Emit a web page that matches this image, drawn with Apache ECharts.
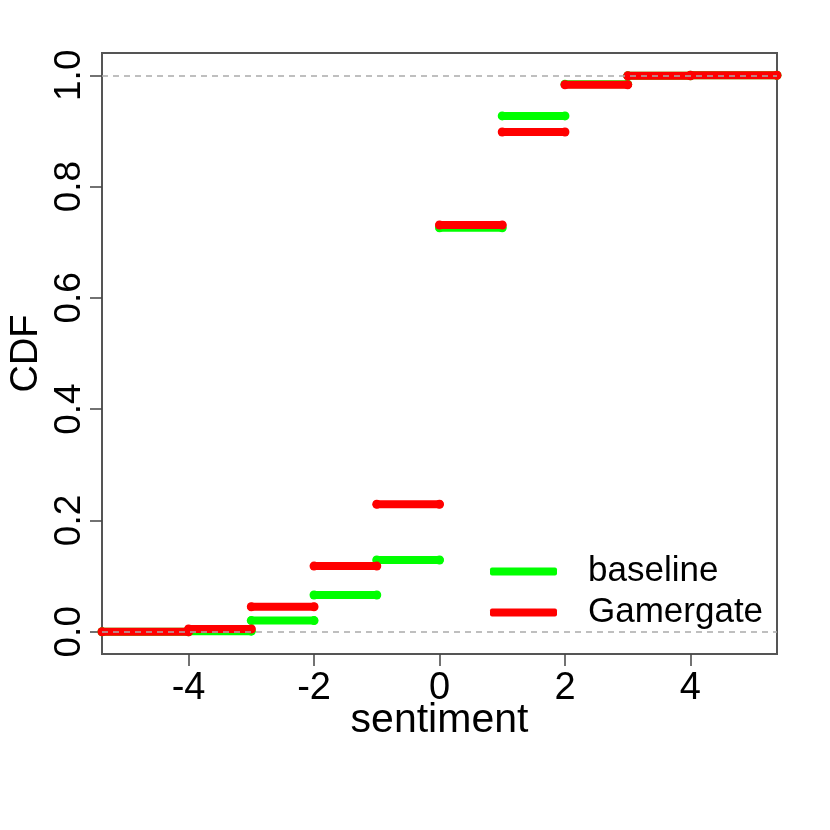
<!DOCTYPE html>
<html>
<head>
<meta charset="utf-8">
<script src="https://cdn.jsdelivr.net/npm/echarts@6/dist/echarts.min.js"></script>
<style>html,body{margin:0;padding:0;background:#fff}#c{width:830px;height:830px}</style>
</head>
<body>
<div id="c"></div>
<script>
const steps = [-4, -3, -2, -1, 0, 1, 2, 3, 4];
const baselineCDF = [0.001, 0.020, 0.066, 0.129, 0.726, 0.927, 0.984, 0.999, 1.0];
const gamergateCDF = [0.005, 0.045, 0.118, 0.229, 0.731, 0.898, 0.983, 0.999, 1.0];
const xTicks = [-4, -2, 0, 2, 4];
const yTicks = [0.0, 0.2, 0.4, 0.6, 0.8, 1.0];
const xMin = -5.38, xMax = 5.38, yMin = -0.04, yMax = 1.04;

function stepData(vals) {
  const d = [];
  d.push([xMin, 0], [steps[0], 0], [steps[0], '-']);
  for (let i = 0; i < steps.length; i++) {
    const x1 = i + 1 < steps.length ? steps[i + 1] : xMax;
    d.push([steps[i], vals[i]], [x1, vals[i]], [x1, '-']);
  }
  return d;
}

const font = '"Liberation Sans", Arial, Helvetica, sans-serif';
const chart = echarts.init(document.getElementById('c'));
chart.setOption({
  animation: false,
  backgroundColor: '#fff',
  grid: { left: 102, right: 53, top: 53, bottom: 176, show: true, borderColor: '#555', borderWidth: 2, outerBoundsMode: 'none', containLabel: false },
  legend: {
    orient: 'vertical', left: 490, top: 554, padding: 0,
    itemWidth: 67, itemHeight: 8, itemGap: 6, icon: 'roundRect',
    textStyle: { fontSize: 35, fontFamily: font, color: '#000', lineHeight: 35, padding: [0, 0, 0, 26] },
    data: ['baseline', 'Gamergate']
  },
  xAxis: {
    type: 'value', min: xMin, max: xMax,
    name: 'sentiment', nameLocation: 'middle', nameGap: 46, nameMoveOverlap: false,
    nameTextStyle: { fontSize: 41, fontFamily: font, color: '#000' },
    axisLine: { show: false, onZero: false },
    axisTick: { show: true, length: 12, lineStyle: { color: '#444', width: 1.5 }, customValues: xTicks },
    axisLabel: { fontSize: 38, fontFamily: font, color: '#000', margin: 16, customValues: xTicks, formatter: v => String(v) },
    splitLine: { show: false }
  },
  yAxis: {
    type: 'value', min: yMin, max: yMax,
    name: 'CDF', nameLocation: 'middle', nameGap: 56, nameRotate: 90, nameMoveOverlap: false,
    nameTextStyle: { fontSize: 38, fontFamily: font, color: '#000' },
    axisLine: { show: false, onZero: false },
    axisTick: { show: true, length: 12, lineStyle: { color: '#444', width: 1.5 }, customValues: yTicks },
    axisLabel: { fontSize: 37, fontFamily: font, color: '#000', margin: 14, rotate: 90, customValues: yTicks, formatter: v => v.toFixed(1) },
    splitLine: { show: false }
  },
  series: [
    {
      name: 'baseline', type: 'line', data: stepData(baselineCDF), connectNulls: false,
      showSymbol: true, symbol: 'circle', symbolSize: 9,
      color: '#00ff00', itemStyle: { color: '#00ff00' },
      lineStyle: { width: 8, color: '#00ff00', cap: 'round' }, z: 2
    },
    {
      name: 'Gamergate', type: 'line', data: stepData(gamergateCDF), connectNulls: false,
      showSymbol: true, symbol: 'circle', symbolSize: 9,
      color: '#ff0000', itemStyle: { color: '#ff0000' },
      lineStyle: { width: 8, color: '#ff0000', cap: 'round' }, z: 3
    },
    {
      name: 'ref', type: 'line', data: [], z: 5,
      markLine: {
        silent: true, symbol: 'none', label: { show: false },
        lineStyle: { color: '#aaa', type: [6, 5], width: 1.5 },
        data: [{ yAxis: 0 }, { yAxis: 1 }]
      }
    }
  ]
});
</script>
</body>
</html>
